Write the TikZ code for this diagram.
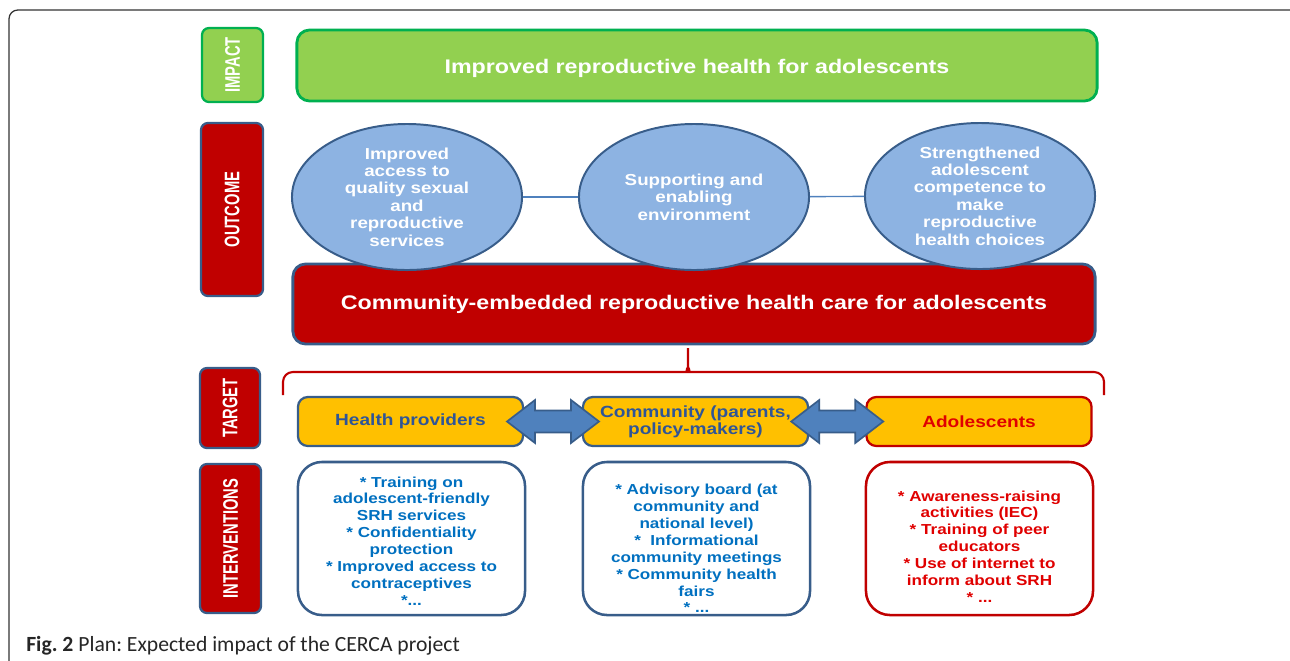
\documentclass[tikz,border=0pt]{standalone}
\usepackage{fontspec}
\setmainfont{Liberation Sans}
\newfontfamily\boxfont{Liberation Sans}[FakeStretch=1.18]
\newfontfamily\sidefont{Liberation Sans}[FakeStretch=0.7]
\newfontfamily\capfont{Carlito}
\usepackage{tikz}
\usetikzlibrary{shapes.geometric,calc}
\frenchspacing

\definecolor{leaf}{HTML}{92D050}
\definecolor{leafline}{HTML}{00B050}
\definecolor{wine}{HTML}{C00000}
\definecolor{steel}{HTML}{385D8A}
\definecolor{sky}{HTML}{8DB3E2}
\definecolor{arrowblue}{HTML}{4F81BD}
\definecolor{gold}{HTML}{FFC000}
\definecolor{navytext}{HTML}{2F5597}
\definecolor{bluetext}{HTML}{0070C0}
\definecolor{redtext}{HTML}{E00000}

\tikzset{
  sidebox/.style={draw=steel, fill=wine, line width=1.6pt, rounded corners=5pt, rotate=90,
    inner sep=0pt, text=white, font=\sidefont\bfseries\fontsize{15}{16}\selectfont},
  bigbox/.style={line width=2pt, rounded corners=9pt, inner sep=0pt, text=white,
    font=\boxfont\bfseries\fontsize{14}{16}\selectfont},
  goal/.style={ellipse, draw=steel, fill=sky, line width=1.4pt, inner sep=0pt,
    minimum width=5.75cm, minimum height=3.65cm, align=center, text=white,
    font=\boxfont\bfseries\fontsize{11.3}{12.4}\selectfont},
  group/.style={draw=steel, fill=gold, line width=1.6pt, rounded corners=7pt, inner sep=0pt,
    minimum width=5.625cm, minimum height=1.225cm, align=center, text=navytext,
    font=\boxfont\bfseries\fontsize{11.5}{11.9}\selectfont},
  action/.style={draw=steel, fill=white, line width=1.8pt, rounded corners=0.6cm, inner sep=0pt,
    minimum width=5.675cm, minimum height=3.825cm, align=center, text=bluetext,
    font=\boxfont\bfseries\fontsize{10.3}{12}\selectfont},
  linkline/.style={draw=arrowblue, line width=1pt},
  twoway/.style={draw=steel, fill=arrowblue, line width=1.2pt, line join=miter},
}

\begin{document}
\begin{tikzpicture}[x=0.025cm, y=-0.025cm]
%	\draw [help lines, step=100] (0,0) grid (1290,660);
	\useasboundingbox (0,0) rectangle (1290,660);
	\clip (0,0) rectangle (1290,660);
	\draw [black!80, line width=0.9pt, rounded corners=0.22cm] (9,10) rectangle (1320,700);

	% row labels
	\node [sidebox, fill=leaf, draw=leafline, minimum width=1.85cm, minimum height=1.525cm] (impactlbl) at (232.5,65) {IMPACT};
	\node [sidebox, minimum width=4.325cm, minimum height=1.55cm] (outcomelbl) at (232,209.5) {OUTCOME};
	\node [sidebox, minimum width=2cm, minimum height=1.5cm] (targetlbl) at (230,408) {TARGET};
	\node [sidebox, minimum width=3.725cm, minimum height=1.525cm] (interlbl) at (230.5,538.5) {INTERVENTIONS};

	% impact and outcome
	\node [bigbox, fill=leaf, draw=leafline, minimum width=20cm, minimum height=1.775cm] (impact) at (697,65.5)
		{\raisebox{-2pt}[\height][\depth]{Improved reproductive health for adolescents}};
	\node [bigbox, fill=wine, draw=steel, minimum width=20.05cm, minimum height=2cm] (care) at (694,304)
		{Community-embedded reproductive health care for adolescents};
	\node [goal] (access) at (407,197) {Improved\\access to\\quality sexual\\and\\reproductive\\services};
	\node [goal] (enabling) at (694,197) {Supporting and\\enabling\\environment};
	\node [goal] (competence) at (980,196) {Strengthened\\adolescent\\competence to\\make\\reproductive\\health choices};
	\draw [linkline] (access) -- (enabling);
	\draw [linkline] (enabling) -- (competence);

	% brace
	\draw [wine, line width=1.5pt, rounded corners=7pt] (283,395) |- (678,372)
		.. controls (685,372) and (688,366) .. (688,358) -- (688,349) -- (688,358)
		.. controls (688,366) and (691,372) .. (698,372) -| (1104,395);

	% target groups
	\node [group] (providers) at (410.5,421.5) {Health providers};
	\node [group] (community) at (695.5,421.5) {Community (parents,\\policy-makers)};
	\node [group, draw=wine, text=redtext] (adolescents) at (979,421.5) {Adolescents};
	\coordinate (arrowleft) at ($(providers.east)!0.5!(community.west)$);
	\coordinate (arrowright) at ($(community.east)!0.5!(adolescents.west)$);
	\foreach \spot in {arrowleft, arrowright}
		\draw [twoway] ($(\spot)+(-46,0)$) -- ++(28,-21.5) -- ++(0,10.5) -- ++(36,0) -- ++(0,-10.5)
			-- ++(28,21.5) -- ++(-28,21.5) -- ++(0,-10.5) -- ++(-36,0) -- ++(0,10.5) -- cycle;

	% interventions
	\node [action] (provideracts) at (411.5,538.5) {\raisebox{-3pt}[\height][\depth]{\begin{tabular}{@{}c@{}}* Training on\\adolescent-friendly\\SRH services\\{}* Confidentiality\\protection\\{}* Improved access to\\contraceptives\\{}*...\end{tabular}}};
	\node [action] (communityacts) at (696.5,538.5) {\raisebox{-8.5pt}[\height][\depth]{\begin{tabular}{@{}c@{}}* Advisory board (at\\community and\\national level)\\{}*\ \ Informational\\community meetings\\{}* Community health\\fairs\\{}* ...\end{tabular}}};
	\node [action, draw=wine, text=redtext] (adolescentacts) at (979.5,538.5) {\raisebox{-7pt}[\height][\depth]{\begin{tabular}{@{}c@{}}* Awareness-raising\\activities (IEC)\\{}* Training of peer\\educators\\{}* Use of internet to\\inform about SRH\\{}* ...\end{tabular}}};

	\node [anchor=base west, inner sep=0pt, text=black!85, font=\capfont\fontsize{15.4}{17}\selectfont] (caption) at (26,651)
		{\textbf{Fig. 2} Plan: Expected impact of the CERCA project};
\end{tikzpicture}
\end{document}
